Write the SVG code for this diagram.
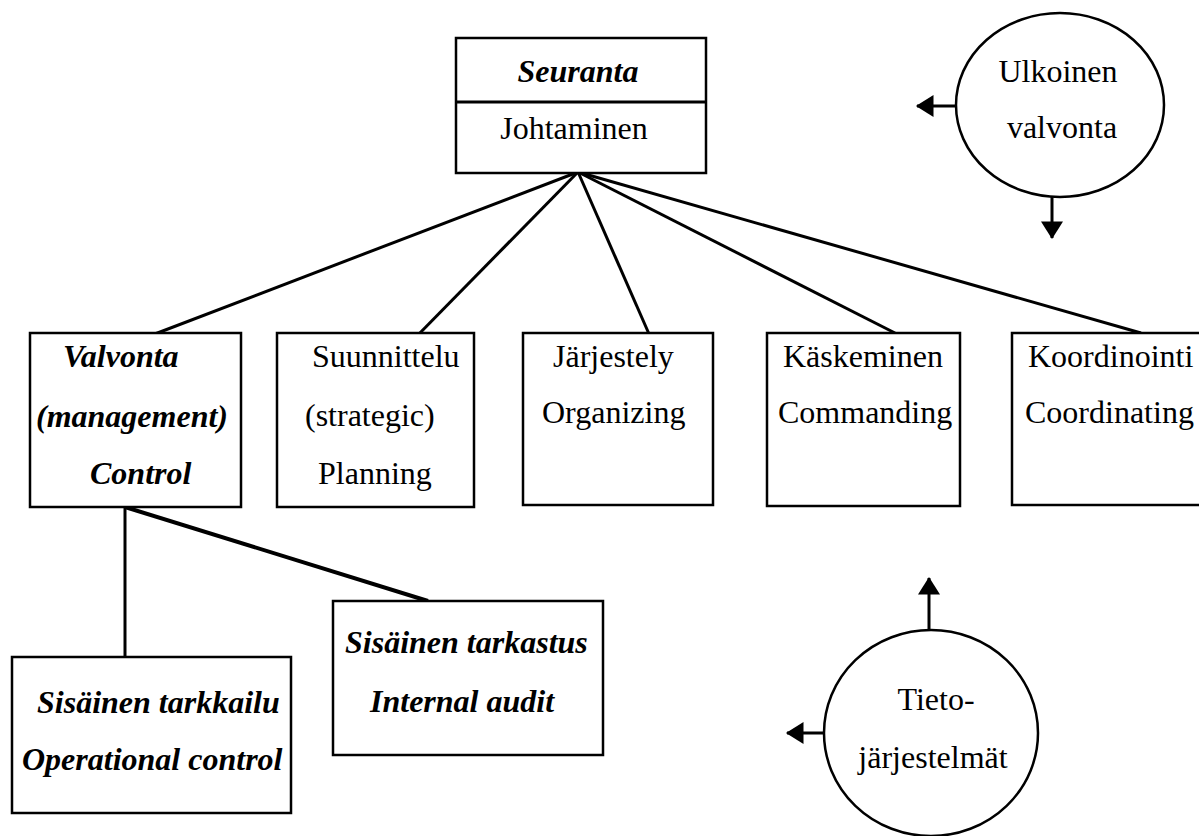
<svg xmlns="http://www.w3.org/2000/svg" width="1199" height="836" viewBox="0 0 1199 836">
<style>
.bg{fill:#fff}
.box{fill:#fff;stroke:#000;stroke-width:2.5}
.ell{fill:#fff;stroke:#000;stroke-width:2.5}
.ln{stroke:#000;stroke-width:3;fill:none}
.lnb{stroke:#000;stroke-width:4;fill:none}
.arr{stroke:#000;stroke-width:3;fill:none;marker-end:url(#ah)}
text{font-family:"Liberation Serif","Times New Roman",serif;font-size:32px;fill:#000}
.bi{font-weight:bold;font-style:italic}
.c{text-anchor:middle}
</style>
<defs>
<marker id="ah" markerUnits="userSpaceOnUse" markerWidth="20" markerHeight="22" viewBox="0 0 16 20" refX="15" refY="10" orient="auto">
<path d="M0,0 L16,10 L0,20 Z" fill="#000"/>
</marker>
</defs>
<rect class="bg" x="0" y="0" width="1199" height="836"/>
<g id="connectors">
<line class="ln" x1="578" y1="172" x2="147" y2="337"/>
<line class="ln" x1="578" y1="172" x2="415" y2="338"/>
<line class="ln" x1="578" y1="172" x2="653" y2="343"/>
<line class="ln" x1="578" y1="172" x2="895" y2="333"/>
<line class="ln" x1="578" y1="172" x2="1141" y2="333"/>
<line class="ln" x1="125" y1="507" x2="125" y2="657"/>
<line class="lnb" x1="125" y1="507" x2="428" y2="601"/>
<line class="arr" x1="956" y1="106" x2="917" y2="106"/>
<line class="arr" x1="1052" y1="197" x2="1052" y2="238"/>
<line class="arr" x1="929" y1="630" x2="929" y2="578"/>
<line class="arr" x1="824" y1="733" x2="787" y2="733"/>
</g>
<g id="n-seuranta">
<rect class="box" x="456" y="38" width="250" height="135"/>
<line class="ln" x1="456" y1="102" x2="706" y2="102"/>
<text class="bi c" x="578" y="82">Seuranta</text>
<text class="c" x="574" y="139">Johtaminen</text>
</g>
<g id="n-valvonta">
<rect class="box" x="30" y="333" width="211" height="174"/>
<text class="bi" x="63" y="367">Valvonta</text>
<text class="bi" x="36" y="427">(management)</text>
<text class="bi" x="90" y="484">Control</text>
</g>
<g id="n-suunnittelu">
<rect class="box" x="277" y="333" width="197" height="174"/>
<text x="312" y="367">Suunnittelu</text>
<text x="305" y="426">(strategic)</text>
<text x="318" y="484">Planning</text>
</g>
<g id="n-jarjestely">
<rect class="box" x="523" y="333" width="190" height="172"/>
<text x="553" y="367">Järjestely</text>
<text x="542" y="423">Organizing</text>
</g>
<g id="n-kaskeminen">
<rect class="box" x="767" y="333" width="193" height="173"/>
<text x="783" y="367">Käskeminen</text>
<text x="778" y="423">Commanding</text>
</g>
<g id="n-koordinointi">
<rect class="box" x="1012" y="333" width="200" height="172"/>
<text x="1028" y="367">Koordinointi</text>
<text x="1025" y="423">Coordinating</text>
</g>
<g id="n-tarkkailu">
<rect class="box" x="12" y="657" width="279" height="156"/>
<text class="bi" x="37" y="713">Sisäinen tarkkailu</text>
<text class="bi" x="22" y="770">Operational control</text>
</g>
<g id="n-tarkastus">
<rect class="box" x="333" y="601" width="270" height="154"/>
<text class="bi" x="345" y="653">Sisäinen tarkastus</text>
<text class="bi" x="370" y="712">Internal audit</text>
</g>
<g id="n-ulkoinen">
<ellipse class="ell" cx="1060" cy="105" rx="104" ry="92"/>
<text class="c" x="1058" y="82">Ulkoinen</text>
<text class="c" x="1062" y="138">valvonta</text>
</g>
<g id="n-tieto">
<ellipse class="ell" cx="931" cy="733" rx="107" ry="103"/>
<text class="c" x="936" y="710">Tieto-</text>
<text class="c" x="933" y="768">järjestelmät</text>
</g>
</svg>
